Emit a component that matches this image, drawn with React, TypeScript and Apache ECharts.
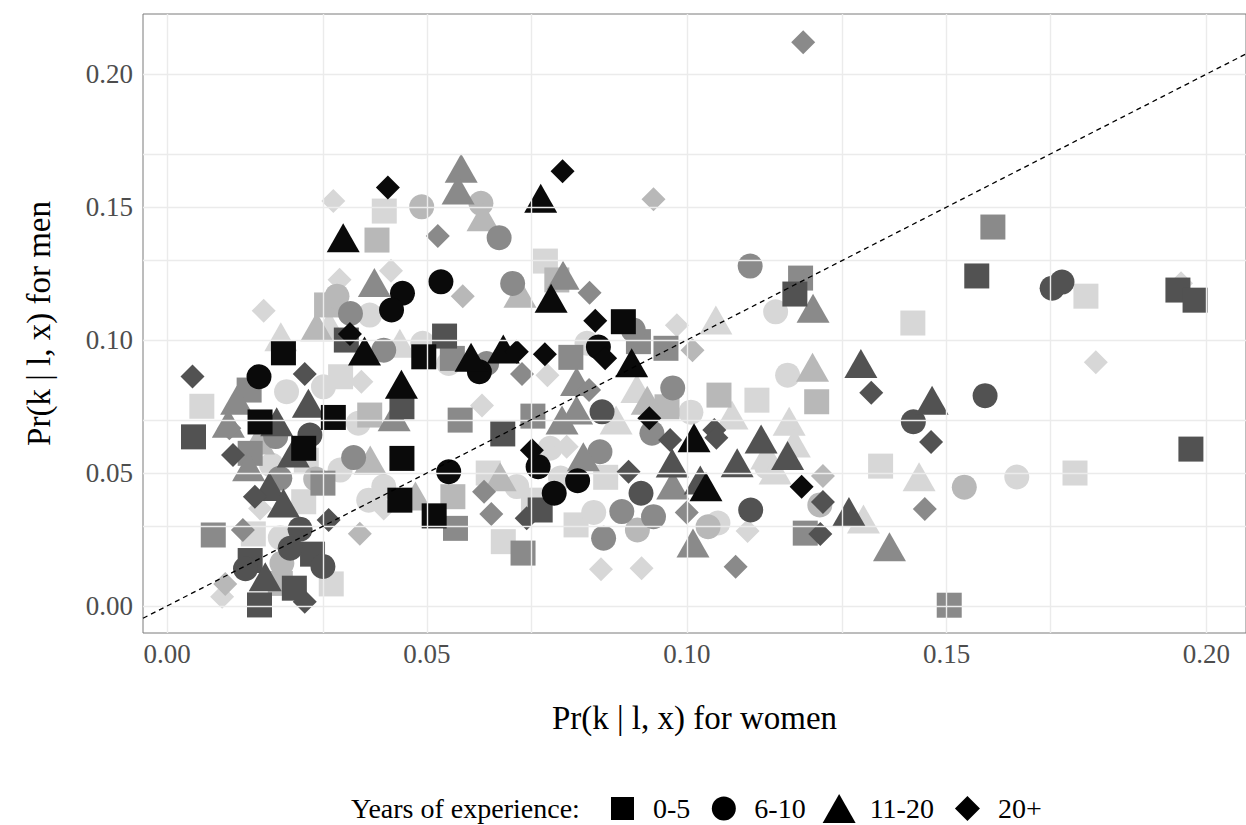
import React, { useEffect, useRef } from "react";
import * as echarts from "echarts";

// Axis extents (ggplot-style expanded ranges)
const X_MIN = -0.00462;
const X_MAX = 0.2076;
const Y_MIN = -0.01015;
const Y_MAX = 0.2226;

const tickValues = [0, 0.05, 0.1, 0.15, 0.2];
const gridValues = [0, 0.025, 0.05, 0.075, 0.1, 0.125, 0.15, 0.175, 0.2];

const experienceLevels = ["0-5", "6-10", "11-20", "20+"];
const shades = ["#0a0a0a", "#525252", "#8a8a8a", "#b8b8b8", "#d7d7d7"];

// [Pr(k|l,x) women, Pr(k|l,x) men, shade index]
const squares: number[][] = [
  [0.1945, 0.1188, 1], [0.1978, 0.115, 1], [0.197, 0.059, 1], [0.1589, 0.1425, 2],
  [0.1558, 0.1241, 1], [0.1768, 0.1165, 4], [0.1435, 0.1064, 4], [0.1505, 0.0003, 2],
  [0.1747, 0.05, 4], [0.1373, 0.0526, 4], [0.1219, 0.1233, 2], [0.1208, 0.1173, 1],
  [0.1062, 0.0793, 3], [0.1135, 0.0774, 4], [0.125, 0.0768, 3], [0.1228, 0.0274, 2],
  [0.0962, 0.0749, 3], [0.0878, 0.1069, 0], [0.0907, 0.0994, 2], [0.096, 0.0969, 2],
  [0.0777, 0.0935, 2], [0.0728, 0.1297, 4], [0.075, 0.1226, 3], [0.0844, 0.0484, 4],
  [0.0787, 0.0305, 4], [0.0534, 0.1015, 1], [0.0494, 0.0937, 0], [0.0549, 0.0931, 2],
  [0.0418, 0.1485, 4], [0.0404, 0.1376, 3], [0.0307, 0.1132, 3], [0.0345, 0.1, 1],
  [0.0224, 0.0952, 0], [0.0158, 0.0812, 2], [0.0334, 0.0862, 4], [0.0067, 0.0751, 4],
  [0.0179, 0.0692, 0], [0.032, 0.0709, 0], [0.0051, 0.0636, 1], [0.0263, 0.0593, 0],
  [0.0452, 0.0749, 1], [0.0564, 0.0699, 2], [0.0646, 0.0647, 1], [0.0452, 0.0555, 0],
  [0.016, 0.0574, 2], [0.03, 0.0462, 2], [0.0263, 0.0392, 4], [0.0448, 0.0398, 0],
  [0.0514, 0.0339, 0], [0.0555, 0.0292, 2], [0.0647, 0.0242, 4], [0.0685, 0.0199, 2],
  [0.0089, 0.0267, 2], [0.0166, 0.0271, 4], [0.016, 0.0171, 1], [0.028, 0.0195, 1],
  [0.0316, 0.0083, 4], [0.0245, 0.0067, 1], [0.0178, 0.0004, 1], [0.055, 0.0411, 3],
  [0.0704, 0.0714, 2], [0.0705, 0.0398, 4], [0.0218, 0.0085, 3], [0.0718, 0.0361, 1],
  [0.039, 0.0718, 3], [0.0618, 0.05, 4], [0.0268, 0.0548, 4],
];

const circles: number[][] = [
  [0.1703, 0.1195, 1], [0.1722, 0.1218, 1], [0.1574, 0.0791, 1], [0.1436, 0.0693, 1],
  [0.1534, 0.0447, 3], [0.1635, 0.0485, 4], [0.1122, 0.1278, 2], [0.1171, 0.1106, 4],
  [0.1194, 0.0868, 4], [0.1008, 0.0729, 4], [0.1123, 0.0361, 1], [0.1041, 0.0298, 3],
  [0.106, 0.0312, 4], [0.1256, 0.038, 3], [0.1154, 0.0523, 4], [0.083, 0.0974, 0],
  [0.0808, 0.0988, 4], [0.0973, 0.082, 2], [0.0837, 0.073, 1], [0.0933, 0.065, 2],
  [0.0897, 0.1038, 2], [0.0714, 0.0524, 0], [0.0745, 0.0424, 0], [0.079, 0.0471, 0],
  [0.0542, 0.0505, 0], [0.0833, 0.058, 2], [0.0912, 0.0424, 1], [0.0875, 0.0355, 2],
  [0.0936, 0.0336, 2], [0.0905, 0.0286, 3], [0.084, 0.0255, 2], [0.0821, 0.0352, 4],
  [0.0673, 0.0449, 4], [0.0737, 0.0593, 4], [0.0604, 0.1514, 3], [0.049, 0.1501, 3],
  [0.0639, 0.1385, 2], [0.0527, 0.1219, 0], [0.0665, 0.1213, 2], [0.0601, 0.0881, 0],
  [0.0615, 0.0912, 2], [0.0542, 0.0912, 4], [0.0453, 0.1176, 0], [0.0432, 0.1113, 0],
  [0.0327, 0.1165, 3], [0.0353, 0.11, 2], [0.039, 0.1094, 4], [0.0417, 0.0962, 2],
  [0.0492, 0.0988, 4], [0.0177, 0.0862, 0], [0.0301, 0.0824, 4], [0.0368, 0.0687, 4],
  [0.0275, 0.0643, 1], [0.0359, 0.0558, 2], [0.0201, 0.053, 4], [0.0217, 0.048, 2],
  [0.0388, 0.0398, 4], [0.0417, 0.0449, 4], [0.0218, 0.0257, 4], [0.0237, 0.0217, 1],
  [0.0256, 0.0289, 1], [0.03, 0.0149, 1], [0.0151, 0.014, 1], [0.0221, 0.0161, 3],
  [0.023, 0.0806, 4], [0.0333, 0.0511, 4], [0.0757, 0.0481, 4], [0.0209, 0.0637, 2],
  [0.0286, 0.0478, 3],
];

const triangles: number[][] = [
  [0.1472, 0.0774, 1], [0.1335, 0.0912, 1], [0.1447, 0.0486, 4], [0.1312, 0.0355, 1],
  [0.134, 0.0327, 4], [0.139, 0.0223, 2], [0.1243, 0.112, 2], [0.1056, 0.1075, 4],
  [0.1242, 0.0898, 3], [0.1087, 0.0718, 4], [0.1014, 0.0633, 0], [0.1143, 0.0628, 1],
  [0.1197, 0.0695, 4], [0.1207, 0.0613, 4], [0.1194, 0.0566, 1], [0.1154, 0.0568, 4],
  [0.117, 0.0511, 4], [0.1097, 0.0539, 1], [0.1037, 0.0448, 0], [0.1026, 0.0474, 1],
  [0.1012, 0.0237, 2], [0.0894, 0.0915, 0], [0.0788, 0.0844, 2], [0.0904, 0.0818, 4],
  [0.0924, 0.0774, 3], [0.0788, 0.0737, 2], [0.076, 0.0699, 2], [0.0972, 0.0538, 1],
  [0.0973, 0.0455, 2], [0.0801, 0.0561, 2], [0.0641, 0.0486, 3], [0.0566, 0.1646, 2],
  [0.056, 0.1564, 2], [0.0608, 0.1464, 3], [0.0719, 0.1533, 0], [0.0762, 0.1244, 2],
  [0.0739, 0.1157, 0], [0.0679, 0.1176, 3], [0.0585, 0.0935, 0], [0.0647, 0.0966, 0],
  [0.0339, 0.1385, 0], [0.0399, 0.1216, 2], [0.0312, 0.1056, 4], [0.038, 0.0959, 0],
  [0.0219, 0.1012, 4], [0.0451, 0.0834, 0], [0.0134, 0.0774, 2], [0.0272, 0.0762, 1],
  [0.0437, 0.0712, 2], [0.0118, 0.0687, 2], [0.0211, 0.0693, 1], [0.0391, 0.0549, 3],
  [0.0197, 0.0449, 1], [0.0478, 0.0414, 3], [0.0189, 0.011, 1], [0.0157, 0.0524, 2],
  [0.0224, 0.0387, 1], [0.0176, 0.0624, 3], [0.0288, 0.105, 3], [0.0448, 0.0988, 4],
  [0.0864, 0.0699, 4], [0.0243, 0.0575, 1],
];

const diamonds: number[][] = [
  [0.1224, 0.212, 2], [0.1951, 0.1214, 4], [0.1787, 0.0917, 4], [0.147, 0.0617, 1],
  [0.1355, 0.0802, 1], [0.1458, 0.0365, 2], [0.1221, 0.0448, 0], [0.1262, 0.0489, 3],
  [0.1262, 0.0391, 1], [0.1257, 0.0271, 1], [0.1117, 0.0282, 4], [0.1094, 0.0148, 2],
  [0.1011, 0.0962, 3], [0.1053, 0.0662, 1], [0.1057, 0.0633, 1], [0.0981, 0.1056, 4],
  [0.0824, 0.1073, 0], [0.0843, 0.0932, 0], [0.0727, 0.0947, 0], [0.0732, 0.0868, 4],
  [0.0812, 0.0812, 2], [0.0928, 0.0706, 0], [0.0968, 0.0624, 1], [0.1, 0.0352, 2],
  [0.0835, 0.0138, 4], [0.0913, 0.0142, 4], [0.0761, 0.1635, 0], [0.0936, 0.1529, 3],
  [0.0813, 0.1178, 2], [0.0521, 0.1391, 2], [0.0569, 0.1165, 3], [0.0673, 0.0956, 0],
  [0.0683, 0.0872, 2], [0.0425, 0.1574, 0], [0.032, 0.1523, 4], [0.0431, 0.1261, 4],
  [0.0332, 0.1227, 4], [0.0186, 0.111, 4], [0.0352, 0.1023, 0], [0.0049, 0.0863, 1],
  [0.0265, 0.0872, 1], [0.012, 0.0668, 2], [0.0127, 0.0568, 1], [0.0169, 0.0411, 1],
  [0.0179, 0.0367, 4], [0.0311, 0.0323, 1], [0.0417, 0.0367, 4], [0.0371, 0.0272, 3],
  [0.0146, 0.0286, 2], [0.0112, 0.0083, 3], [0.0106, 0.0035, 4], [0.0265, 0.0016, 1],
  [0.0606, 0.0754, 4], [0.061, 0.043, 2], [0.0624, 0.0346, 2], [0.0692, 0.033, 1],
  [0.0702, 0.0586, 0], [0.0769, 0.0599, 4], [0.0888, 0.0505, 1], [0.0374, 0.0843, 4],
];

const diagonal = [
  [X_MIN, X_MIN],
  [X_MAX, X_MAX],
];

const FONT = "'Liberation Serif', 'Times New Roman', Times, serif";

const shapeDefs = [
  {
    name: experienceLevels[0],
    symbol: "rect",
    size: 25 as number | number[],
    data: squares,
    icon: "path://M0,0M33,29M5,3h23v23h-23Z",
  },
  {
    name: experienceLevels[1],
    symbol: "circle",
    size: 25 as number | number[],
    data: circles,
    icon: "path://M0,0M33,29M4.5,14.5a12,12 0 1,0 24,0a12,12 0 1,0 -24,0Z",
  },
  {
    name: experienceLevels[2],
    symbol: "triangle",
    size: [33, 29] as number | number[],
    data: triangles,
    icon: "path://M16.5,0L33,29L0,29Z",
  },
  {
    name: experienceLevels[3],
    symbol: "diamond",
    size: [24, 24] as number | number[],
    data: diamonds,
    icon: "path://M0,0M33,29M16.5,2L29,14.5L16.5,27L4,14.5Z",
  },
];

function buildOption() {
  const series: any[] = [];

  // light grid lines (major + minor) drawn through the axes' scales
  series.push({
    type: "line",
    name: "grid",
    data: [],
    silent: true,
    z: 1,
    markLine: {
      silent: true,
      animation: false,
      symbol: ["none", "none"],
      label: { show: false },
      lineStyle: { color: "#ebebeb", width: 1.4, type: "solid" },
      emphasis: { disabled: true },
      data: [
        ...gridValues.map((v) => ({ xAxis: v })),
        ...gridValues.map((v) => ({ yAxis: v })),
      ],
    },
  });

  for (let g = shades.length - 1; g >= 0; g--) {
    for (const s of shapeDefs) {
      const pts = s.data.filter((p) => p[2] === g).map((p) => [p[0], p[1]]);
      series.push({
        type: "scatter",
        name: `${s.name}-shade${g}`,
        symbol: s.symbol,
        symbolSize: s.size,
        data: pts,
        silent: true,
        z: 2,
        itemStyle: { color: shades[g], opacity: 1, borderWidth: 0 },
      });
    }
  }

  // legend-only series
  for (const s of shapeDefs) {
    series.push({
      type: "scatter",
      name: s.name,
      symbol: s.symbol,
      data: [],
      itemStyle: { color: "#000", opacity: 1 },
    });
  }

  series.push({
    type: "line",
    name: "diagonal",
    data: diagonal,
    symbol: "none",
    silent: true,
    z: 5,
    lineStyle: { color: "#000", width: 1.3, type: [5, 4] },
  });

  return {
    animation: false,
    backgroundColor: "#fff",
    grid: {
      left: 143,
      right: -1,
      top: 14,
      bottom: 192,
      show: true,
      borderColor: "#7a7a7a",
      borderWidth: 1,
      backgroundColor: "transparent",
    },
    xAxis: {
      type: "value",
      min: X_MIN,
      max: X_MAX,
      name: "Pr(k | l, x) for women",
      nameLocation: "middle",
      nameGap: 68,
      nameTextStyle: { fontFamily: FONT, fontSize: 33, color: "#000" },
      axisLine: { show: false },
      splitLine: { show: false },
      axisTick: {
        show: true,
        length: 4,
        customValues: tickValues,
        lineStyle: { color: "#333", width: 1 },
      },
      axisLabel: {
        customValues: tickValues,
        formatter: (v: number) => v.toFixed(2),
        fontFamily: FONT,
        fontSize: 27,
        color: "#4d4d4d",
        margin: 7,
      },
    },
    yAxis: {
      type: "value",
      min: Y_MIN,
      max: Y_MAX,
      name: "Pr(k | l, x) for men",
      nameLocation: "middle",
      nameGap: 88,
      nameTextStyle: { fontFamily: FONT, fontSize: 33, color: "#000" },
      axisLine: { show: false },
      splitLine: { show: false },
      axisTick: {
        show: true,
        length: 4,
        customValues: tickValues,
        lineStyle: { color: "#333", width: 1 },
      },
      axisLabel: {
        customValues: tickValues,
        formatter: (v: number) => v.toFixed(2),
        fontFamily: FONT,
        fontSize: 27,
        color: "#4d4d4d",
        margin: 10,
      },
    },
    legend: {
      data: shapeDefs.map((s) => ({
        name: s.name,
        icon: s.icon,
        itemStyle: { color: "#000", opacity: 1 },
      })),
      left: 606,
      top: 794,
      padding: 0,
      itemWidth: 33,
      itemHeight: 29,
      itemGap: 17,
      selectedMode: false,
      symbolKeepAspect: true,
      textStyle: {
        fontFamily: FONT,
        fontSize: 28,
        color: "#000",
        padding: [0, 0, 0, 9],
      },
    },
    graphic: [
      {
        type: "text",
        left: 351,
        top: 794,
        style: {
          text: "Years of experience:",
          fontFamily: FONT,
          fontSize: 28,
          fill: "#000",
        },
      },
    ],
    series,
  };
}

export default function App() {
  const ref = useRef<HTMLDivElement>(null);
  useEffect(() => {
    document.body.style.margin = "0";
    const chart = echarts.init(ref.current!, null, { renderer: "svg" });
    chart.setOption(buildOption() as any);
    return () => chart.dispose();
  }, []);
  return <div ref={ref} style={{ width: 1246, height: 825 }} />;
}
